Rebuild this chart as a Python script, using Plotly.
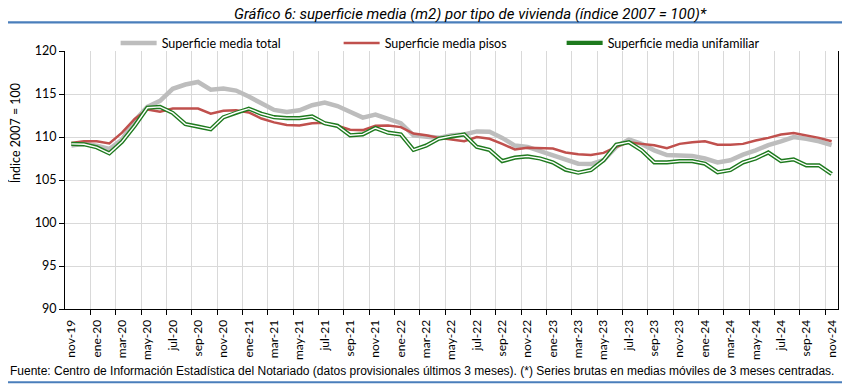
import plotly.graph_objects as go

months = [
    "nov-19", "dic-19",
    "ene-20", "feb-20", "mar-20", "abr-20", "may-20", "jun-20", "jul-20", "ago-20", "sep-20", "oct-20", "nov-20", "dic-20",
    "ene-21", "feb-21", "mar-21", "abr-21", "may-21", "jun-21", "jul-21", "ago-21", "sep-21", "oct-21", "nov-21", "dic-21",
    "ene-22", "feb-22", "mar-22", "abr-22", "may-22", "jun-22", "jul-22", "ago-22", "sep-22", "oct-22", "nov-22", "dic-22",
    "ene-23", "feb-23", "mar-23", "abr-23", "may-23", "jun-23", "jul-23", "ago-23", "sep-23", "oct-23", "nov-23", "dic-23",
    "ene-24", "feb-24", "mar-24", "abr-24", "may-24", "jun-24", "jul-24", "ago-24", "sep-24", "oct-24", "nov-24",
]

total = [
    109.0, 109.2,
    109.0, 108.6, 109.7, 111.9, 113.5, 114.2, 115.6, 116.1, 116.4, 115.5, 115.65, 115.4,
    114.7, 113.85, 113.15, 112.9, 113.1, 113.7, 114.0, 113.6, 112.9, 112.25, 112.6, 112.1,
    111.6, 110.2, 110.1, 109.9, 110.2, 110.3, 110.65, 110.6, 109.9, 109.0, 108.85, 108.35,
    107.9, 107.3, 106.9, 106.85, 107.3, 108.85, 109.7, 109.2, 108.45, 107.9, 107.8, 107.8,
    107.5, 107.05, 107.3, 107.95, 108.45, 109.05, 109.5, 110.0, 109.8, 109.5, 109.05,
]

pisos = [
    109.3, 109.5,
    109.5, 109.25, 110.5, 112.1, 113.2, 112.95, 113.3, 113.3, 113.3, 112.7, 113.05, 113.1,
    112.85, 112.15, 111.7, 111.4, 111.35, 111.6, 111.65, 111.3, 110.85, 110.8, 111.3, 111.35,
    111.15, 110.4, 110.2, 109.9, 109.7, 109.5, 110.0, 109.8, 109.2, 108.55, 108.75, 108.7,
    108.65, 108.2, 108.0, 107.9, 108.15, 108.85, 109.4, 109.2, 109.05, 108.7, 109.2, 109.4,
    109.5, 109.1, 109.1, 109.2, 109.6, 109.9, 110.3, 110.45, 110.2, 109.9, 109.5,
]

unifamiliar = [
    109.2, 109.15,
    108.8, 108.1, 109.45, 111.3, 113.4, 113.5, 112.8, 111.5, 111.2, 110.9, 112.3, 112.85,
    113.3, 112.7, 112.3, 112.2, 112.2, 112.4, 111.6, 111.3, 110.2, 110.3, 111.05, 110.5,
    110.3, 108.5, 109.0, 109.8, 110.1, 110.3, 108.85, 108.5, 107.2, 107.6, 107.75, 107.5,
    107.05, 106.2, 105.85, 106.15, 107.3, 109.1, 109.4, 108.45, 107.05, 107.05, 107.2, 107.2,
    106.9, 105.9, 106.15, 107.05, 107.5, 108.2, 107.2, 107.4, 106.7, 106.7, 105.7,
]

y_ticks = [90, 95, 100, 105, 110, 115, 120]

series_names = ["Superficie media total", "Superficie media pisos", "Superficie media unifamiliar"]

title_text = "<i>Gráfico 6: superficie media (m2) por tipo de vivienda (índice 2007 = 100)*</i>"
source_text = ("Fuente: Centro de Información Estadística del Notariado (datos provisionales últimos 3 meses). "
               "(*) Series brutas en medias móviles de 3 meses centradas.")
y_title = "Índice 2007 = 100"

x = list(range(len(months)))
tick_idx = x[::2]
tick_text = months[::2]
grid_idx = [i + 1.5 for i in x[:-1:2]]

BODY_FONT = "Lato, Liberation Sans, Arial, sans-serif"
RULE_BLUE = "#4A7EBB"

fig = go.Figure()
fig.add_trace(go.Scatter(x=x, y=total, mode="lines", name=series_names[0],
                         line=dict(color="#BDBDBD", width=4.5), customdata=months,
                         hovertemplate="%{customdata}: %{y}<extra></extra>"))
fig.add_trace(go.Scatter(x=x, y=pisos, mode="lines", name=series_names[1],
                         line=dict(color="#C0504D", width=2.5), customdata=months,
                         hovertemplate="%{customdata}: %{y}<extra></extra>"))
fig.add_trace(go.Scatter(x=x, y=unifamiliar, mode="lines", name=series_names[2],
                         legendgroup="uni",
                         line=dict(color="#1E7A1E", width=4.2), customdata=months,
                         hovertemplate="%{customdata}: %{y}<extra></extra>"))
fig.add_trace(go.Scatter(x=x, y=unifamiliar, mode="lines", name=series_names[2],
                         legendgroup="uni", showlegend=False, hoverinfo="skip",
                         line=dict(color="#FFFFFF", width=1.4)))

# The page keeps the browser's default 8px body margin, so the figure is
# sized 842x378 to fill the 850x386 window exactly.
fig.update_layout(
    width=842, height=378,
    margin=dict(l=57, r=12, t=43, b=77, autoexpand=False),
    paper_bgcolor="white", plot_bgcolor="white",
    font=dict(family=BODY_FONT, size=12, color="#000000"),
    showlegend=True,
    legend=dict(orientation="h", x=0.0655, xanchor="left", y=1.03, yanchor="middle",
                bgcolor="rgba(0,0,0,0)", font=dict(family=BODY_FONT, size=12.5, color="#000000"),
                entrywidth=172, entrywidthmode="pixels", itemwidth=36, tracegroupgap=0),
    xaxis=dict(
        range=[-0.5, len(months) - 0.5], automargin=False,
        tickmode="array", tickvals=tick_idx, ticktext=tick_text,
        tickangle=-90, tickfont=dict(size=12, color="#000000"),
        ticks="outside", ticklen=5, tickcolor="rgba(0,0,0,0)",
        showgrid=False, zeroline=False,
        showline=True, linecolor="#000000", linewidth=1,
        minor=dict(tickmode="array", tickvals=grid_idx, showgrid=True,
                   gridcolor="#D9D9D9", gridwidth=1,
                   ticks="outside", ticklen=5, tickcolor="#000000"),
    ),
    yaxis=dict(
        range=[90, 120], tickmode="array", tickvals=y_ticks, automargin=False,
        ticks="outside", ticklen=5, tickcolor="#000000",
        tickfont=dict(size=12.5, color="#000000"),
        showgrid=True, gridcolor="#D9D9D9", gridwidth=1.2, zeroline=False,
        showline=True, linecolor="#000000", linewidth=1, mirror=True,
    ),
    annotations=[
        dict(text=title_text, xref="paper", yref="paper", x=0.524, y=1.143,
             xanchor="center", yanchor="middle", showarrow=False,
             font=dict(family="Roboto, Liberation Sans, Arial, sans-serif",
                       size=15, color="#000000")),
        dict(text=source_text, xref="paper", yref="paper", x=-0.0735, y=-0.242,
             xanchor="left", yanchor="middle", showarrow=False,
             font=dict(family="Liberation Sans, Arial, sans-serif", size=12, color="#000000")),
        dict(text=y_title, xref="paper", yref="paper", x=-0.065, y=0.68,
             xanchor="center", yanchor="middle", showarrow=False, textangle=-90,
             font=dict(family=BODY_FONT, size=12.5, color="#000000")),
    ],
    shapes=[
        dict(type="line", xref="paper", yref="paper", x0=-0.08, x1=1.02, y0=1.111, y1=1.111,
             layer="above", line=dict(color=RULE_BLUE, width=2.2)),
        dict(type="line", xref="paper", yref="paper", x0=-0.08, x1=1.02, y0=-0.284, y1=-0.284,
             layer="above", line=dict(color=RULE_BLUE, width=2.2)),
    ],
)

fig.write_html("out.html", config={"displayModeBar": False})
